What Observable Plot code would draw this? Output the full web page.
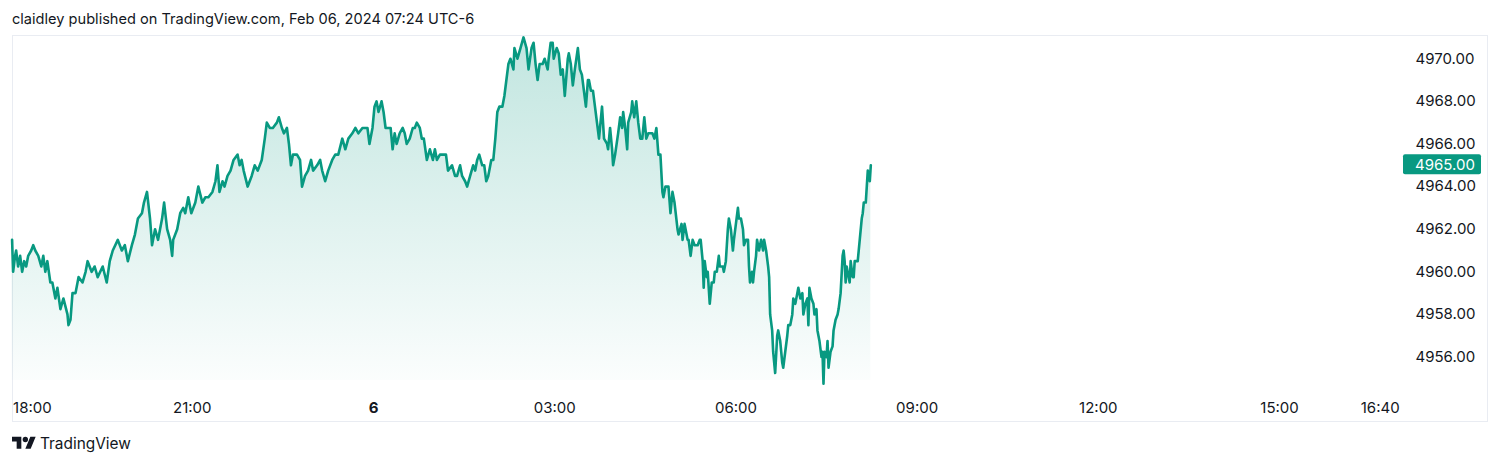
<!DOCTYPE html>
<html><head><meta charset="utf-8">
<script src="https://cdn.jsdelivr.net/npm/d3@7"></script>
<script src="https://cdn.jsdelivr.net/npm/@observablehq/plot@0.6"></script>
<style>
html,body{margin:0;padding:0;background:#fff;}
body{width:1500px;height:465px;position:relative;overflow:hidden;font-family:Inter,Roboto,sans-serif;color:#131722;}
#title{position:absolute;left:12px;top:9px;font-size:14.6px;line-height:20px;white-space:nowrap;}
#frame{position:absolute;left:12px;top:35px;width:1474px;height:385px;border:1px solid #e9ecf2;}
#chart{position:absolute;left:12px;top:35px;}
#brand{position:absolute;left:12px;top:433px;height:20px;display:flex;align-items:center;font-size:15.4px;white-space:nowrap;}
#brand svg{margin-right:4px;}
</style></head>
<body>
<div id="title"></div>
<div id="frame"></div>
<div id="chart"></div>
<div id="brand"><svg width="24" height="19" viewBox="0 0 36 28"><path d="M14 22H7V11H0V4h14v18ZM28 22h-8l7.5-18h8L28 22Z" fill="#131722"/><circle cx="20" cy="8" r="4" fill="#131722"/></svg><span id="brandText"></span></div>
<script>
const titleText = "claidley published on TradingView.com, Feb 06, 2024 07:24 UTC-6";
const brandText = "TradingView";

// minutes since Feb 5, 18:00 (chart time)
const minutes = [
  1,2,4,5,7,9,11,13,15,17, 20,22,24,27,30,32,34,36,39,41,
  44,46,49,52,56,57,59,61,64,67, 71,74,76,80,83,86,91,95,98,101,
  106,110,113,116,120,123,126,130,132,135, 138,140,143,146,150,152,155,158,160,161,
  165,168,171,
  173,176,179,183,186,190,193,196,200,203, 205,207,210,212,215,218,221,225,227,229,
  231,235,239,242,245,249,252,254,257,260, 264,266,269,271,274,276,278,280,284,287,
  289,292,295,298,300,304,307,309,312,315, 319,322,325,329,332,335,339,342,345,349,
  351,354,356,359,361,363,365,368,370,372, 375,377,379,381,383,386,389,391,393,396,
  399,401,403,406,408,410,413,416,419,421, 423,426,429,432,434,438,441,443,446,448,
  451,453,456,459,461,463,465,468,470,472, 474,477,479,481,483,485,488,490,492,494,
  496,499,500,503,506,509,512,514,517,519, 521,523,525,
  528,530,533,534,536,538,539,542,544,546, 548,550,553,554,556,558,560,563,565,567,
  569,571,573,574,576,578,580,582,584,585, 587,589,592,593,595,597,598,600,603,605,
  607,608,610,612,613,616,617,619,621,623, 625,627,629,631,633,637,639,641,643,645,
  647,648,650,653,655,657,659,662,663,666, 667,669,672,673,675,677,679,682,684,
  685,687,688,689,691,692,694,696,698,699, 701,703,704,707,708,710,712,713,715,717,
  718,720,722,723,725,727,728,730,732,733, 734,736,737,738,740,741,743,745,747,748,
  750,752,753,754,756,757,759,761,762,764, 766,767,769,771,772,774,776,777,779,781,
  782,784,786,787,789,791,792,793,795,797, 798,800,801,803,805,806,807,808,810,811,
  812,814,816,817,819,821,822,824,826,827, 828,829,830,831,833,834,836,837,838,841,
  843,845,846,847,849,850,851,853,854
];
const prices = [
  4961.5,4960.0,4960.75,4961.0,4960.25,4960.75,4960.0,4960.5,4960.25,4960.75, 4961.0,4961.25,4961.0,4960.75,4960.25,4960.75,4960.0,4960.5,4959.5,4959.5,
  4958.75,4959.25,4958.25,4958.75,4958.0,4957.5,4957.75,4959.0,4959.0,4959.75, 4959.5,4960.0,4960.5,4960.0,4960.25,4959.75,4960.25,4959.5,4960.5,4961.0,
  4961.5,4961.0,4961.25,4960.5,4961.25,4961.75,4962.5,4962.75,4963.25,4963.75, 4962.5,4961.25,4962.0,4961.5,4962.5,4963.25,4962.0,4961.5,4960.75,4961.5,
  4962.0,4962.75,4963.0,
  4962.75,4963.5,4962.75,4963.25,4964.0,4963.25,4963.5,4963.5,4963.75,4964.25, 4965.0,4963.75,4964.25,4964.0,4964.5,4964.75,4965.25,4965.5,4965.0,4965.25,
  4964.75,4964.0,4964.5,4965.0,4964.75,4965.25,4966.25,4967.0,4966.75,4966.75, 4967.0,4967.25,4966.75,4966.5,4966.75,4966.0,4965.0,4965.5,4965.5,4965.25,
  4964.0,4964.5,4964.75,4965.25,4964.75,4965.0,4965.25,4964.75,4964.25,4964.75, 4965.25,4965.5,4965.5,4966.25,4965.75,4966.25,4966.5,4966.75,4966.5,4966.75,
  4966.75,4966.75,4966.0,4966.75,4967.75,4968.0,4967.5,4968.0,4967.5,4966.75, 4966.75,4966.75,4965.75,4966.5,4966.0,4966.5,4966.75,4966.5,4966.0,4966.25,
  4966.75,4966.75,4967.0,4966.75,4966.25,4966.25,4965.25,4965.75,4965.25,4965.75, 4965.25,4965.5,4965.5,4965.5,4964.75,4965.0,4964.5,4964.5,4965.0,4964.5,
  4964.25,4964.0,4964.5,4965.0,4964.75,4965.25,4965.5,4965.0,4965.0,4964.25, 4964.5,4965.25,4965.25,4966.25,4967.5,4967.75,4967.75,4968.25,4969.0,4969.75,
  4970.0,4969.5,4970.5,4970.0,4970.5,4971.0,4970.5,4969.5,4970.5,4970.75, 4969.75,4969.0,4969.75,
  4969.75,4970.0,4969.5,4970.0,4970.75,4970.75,4970.0,4970.5,4970.25,4969.25, 4969.5,4968.25,4970.0,4970.25,4969.75,4968.75,4969.5,4970.5,4969.5,4969.25,
  4968.5,4967.75,4969.0,4969.0,4968.5,4968.5,4967.75,4967.0,4966.25,4966.75, 4967.75,4966.25,4966.0,4965.75,4966.75,4965.75,4965.0,4965.5,4966.5,4967.25,
  4966.75,4967.5,4966.75,4965.75,4967.0,4967.5,4968.0,4967.25,4968.0,4967.0, 4966.25,4966.25,4967.25,4966.25,4966.5,4966.5,4966.25,4966.75,4965.5,4965.5,
  4963.75,4963.5,4964.0,4964.0,4962.75,4963.75,4963.25,4962.0,4961.75,4962.25, 4961.5,4962.25,4961.5,4961.5,4960.75,4961.5,4961.25,4961.25,4961.5,
  4961.5,4960.5,4959.25,4960.5,4959.75,4960.0,4958.5,4959.5,4959.5,4960.0, 4960.0,4960.75,4960.25,4960.25,4960.0,4960.5,4962.0,4962.5,4962.0,4961.0,
  4961.5,4962.25,4963.0,4962.5,4962.5,4962.0,4961.25,4961.5,4961.5,4960.25, 4959.5,4960.0,4959.5,4960.0,4960.75,4961.5,4961.0,4961.5,4961.0,4961.5,
  4961.0,4960.25,4959.75,4958.0,4957.25,4956.25,4955.25,4957.0,4957.25,4956.75, 4955.75,4955.5,4956.25,4957.0,4957.5,4957.5,4958.0,4958.75,4958.5,4959.0,
  4959.25,4958.75,4959.0,4958.0,4958.5,4958.75,4957.5,4959.25,4958.75,4958.5, 4958.0,4958.25,4957.25,4956.75,4956.0,4956.25,4954.75,4956.25,4956.0,4956.75,
  4955.5,4956.25,4956.5,4957.25,4957.75,4958.0,4958.25,4959.0,4960.75,4961.0, 4960.5,4959.5,4960.25,4960.0,4959.5,4960.5,4959.75,4959.75,4960.5,4960.5,
  4961.5,4962.5,4962.75,4963.25,4963.25,4964.0,4964.75,4964.25,4965.0
];

const yTicks = [4956, 4958, 4960, 4962, 4964, 4966, 4968, 4970];
const xTickMinutes = [0, 180, 360, 540, 720, 900, 1080, 1260, 1360];
const xTickLabels = ["18:00", "21:00", "6", "03:00", "06:00", "09:00", "12:00", "15:00", "16:40"];

document.getElementById("title").textContent = titleText;
document.getElementById("brandText").textContent = brandText;

const green = "#089981";
const data = minutes.map((m, i) => ({m, v: prices[i]}));
const lastPrice = prices[prices.length - 1];
const ticks = xTickMinutes.map((m, i) => ({m, label: xTickLabels[i], i}));
const isDay = d => !d.label.includes(":");

const yDomain = [4954.9, 4971.09];

const gradientDefs = () => {
  const d = d3.create("svg:defs");
  const g = d.append("linearGradient").attr("id", "tvArea")
    .attr("x1", 0).attr("y1", 0).attr("x2", 0).attr("y2", 1);
  g.append("stop").attr("offset", "0%").attr("stop-color", green).attr("stop-opacity", 0.25);
  g.append("stop").attr("offset", "100%").attr("stop-color", green).attr("stop-opacity", 0.015);
  return d.node();
};

const badge = (index, scales, values, dims) => {
  const y = scales.y(lastPrice);
  const x0 = dims.width - dims.marginRight + 8;
  const g = d3.create("svg:g");
  g.append("rect").attr("x", x0).attr("y", y - 10.5).attr("width", 78).attr("height", 20)
    .attr("rx", 2).attr("fill", green);
  g.append("text").attr("x", x0 + 12).attr("y", y).attr("dy", "0.35em")
    .attr("text-anchor", "start").attr("fill", "#fff").attr("font-size", 15)
    .text(lastPrice.toFixed(2));
  return g.node();
};

const chart = Plot.plot({
  width: 1476,
  height: 387,
  marginTop: 0,
  marginBottom: 42,
  marginLeft: 0,
  marginRight: 93,
  style: {fontFamily: "Inter, Roboto, sans-serif", fontSize: "15px", color: "#131722", background: "transparent", overflow: "visible"},
  x: {domain: [1.4, 1375.2], axis: null},
  y: {domain: yDomain, axis: null},
  marks: [
    gradientDefs,
    Plot.areaY(data, {x: "m", y1: yDomain[0], y2: "v", fill: "url(#tvArea)"}),
    Plot.lineY(data, {x: "m", y: "v", stroke: green, strokeWidth: 2.6, strokeLinejoin: "round", strokeLinecap: "round"}),
    Plot.text(yTicks, {y: d => d, text: d => d.toFixed(2), frameAnchor: "right", textAnchor: "start", dx: 20, fill: "#131722", fontSize: 15}),
    badge,
    Plot.text(ticks.filter(d => d.i === 0), {x: "m", text: "label", frameAnchor: "bottom", dy: 32, dx: 2, textAnchor: "start", fill: "#131722", fontSize: 15}),
    Plot.text(ticks.filter(d => d.i > 0 && !isDay(d)), {x: "m", text: "label", frameAnchor: "bottom", dy: 32, fill: "#131722", fontSize: 15}),
    Plot.text(ticks.filter(d => d.i > 0 && isDay(d)), {x: "m", text: "label", frameAnchor: "bottom", dy: 32, fill: "#131722", fontSize: 15, fontWeight: "bold"})
  ]
});
document.getElementById("chart").appendChild(chart);
</script>
</body></html>
